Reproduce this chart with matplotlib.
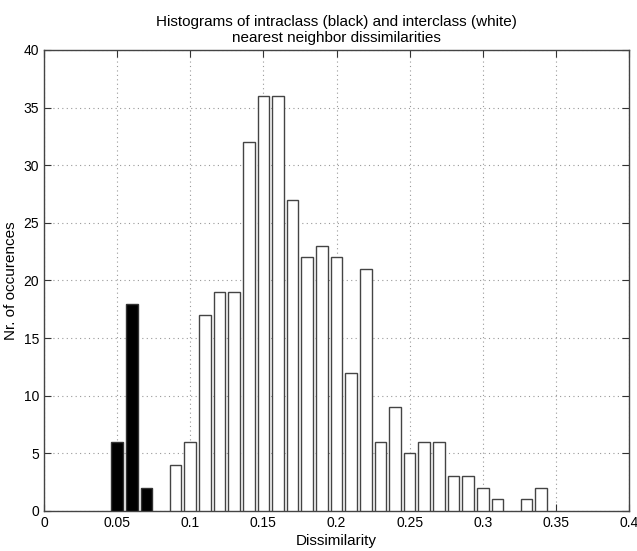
import numpy as np
import matplotlib
matplotlib.use('Agg')
import matplotlib.pyplot as plt

plt.rcParams['font.family'] = ['Liberation Sans', 'DejaVu Sans']

# intraclass (black) histogram
intra_centers = [0.05, 0.06, 0.07]
intra_counts = [6, 18, 2]

# interclass (white) histogram
inter_centers = [0.09, 0.10, 0.11, 0.12, 0.13, 0.14, 0.15, 0.16, 0.17, 0.18,
                 0.19, 0.20, 0.21, 0.22, 0.23, 0.24, 0.25, 0.26, 0.27, 0.28,
                 0.29, 0.30, 0.31, 0.32, 0.33, 0.34]
inter_counts = [4, 6, 17, 19, 19, 32, 36, 36, 27, 22,
                23, 22, 12, 21, 6, 9, 5, 6, 6, 3,
                3, 2, 1, 0, 1, 2]

xticks = [0, 0.05, 0.1, 0.15, 0.2, 0.25, 0.3, 0.35, 0.4]
xtick_labels = ['0', '0.05', '0.1', '0.15', '0.2', '0.25', '0.3', '0.35', '0.4']
yticks = [0, 5, 10, 15, 20, 25, 30, 35, 40]

fig = plt.figure(figsize=(6.37, 5.51), dpi=100)
ax = fig.add_axes([44/637, 40/551, 585/637, 461/551])

ax.bar(intra_centers, intra_counts, width=0.008, color='black',
       edgecolor='#333333', linewidth=1.0, zorder=3)
nz = [c > 0 for c in inter_counts]
ax.bar(np.array(inter_centers)[nz], np.array(inter_counts)[nz], width=0.008,
       color='white', edgecolor='#444444', linewidth=1.0, zorder=3)

ax.set_xlim(0, 0.4)
ax.set_ylim(0, 40)
ax.set_xticks(xticks)
ax.set_xticklabels(xtick_labels)
ax.set_yticks(yticks)
ax.grid(True, linestyle=(0, (1, 3)), color='#999999', linewidth=0.8, zorder=0)
ax.tick_params(direction='in', top=True, right=True, length=5,
               labelsize=10, color='#333333', width=0.8)
for s in ax.spines.values():
    s.set_color('#444444')
    s.set_linewidth(1.0)

ax.set_xlabel('Dissimilarity', fontsize=11, labelpad=3)
ax.set_ylabel('Nr. of occurences', fontsize=11, labelpad=4)
ax.set_title('Histograms of intraclass (black) and interclass (white)\n'
             'nearest neighbor dissimilarities', fontsize=11, pad=6,
             linespacing=1.15)

fig.savefig('out.png', dpi=100)
